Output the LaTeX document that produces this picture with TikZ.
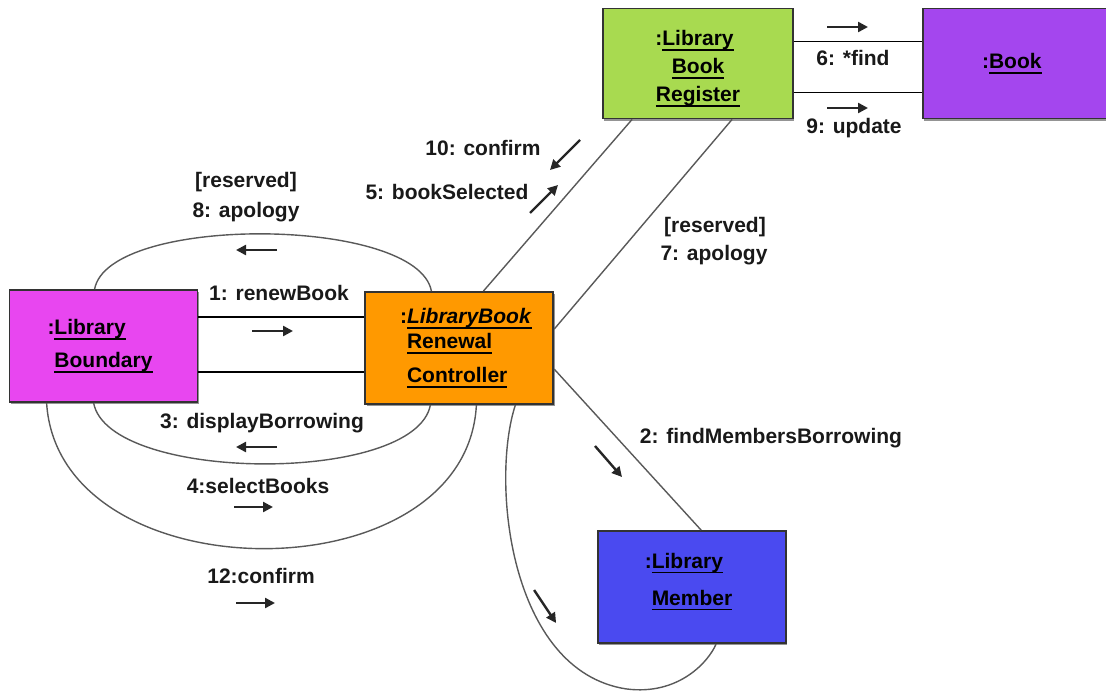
\documentclass[tikz,border=0pt]{standalone}
\usepackage{fontspec}
\setmainfont{Liberation Sans}
\usetikzlibrary{arrows.meta, positioning, calc, shadows}

\definecolor{bndfill}{HTML}{E846F0}
\definecolor{ctlfill}{HTML}{FF9900}
\definecolor{regfill}{HTML}{A8DA50}
\definecolor{bookfill}{HTML}{A446EE}
\definecolor{memfill}{HTML}{4A4AF0}

\newcommand{\objname}[1]{\setbox0\hbox{#1}\rlap{\rule[-2.6pt]{\wd0}{0.9pt}}\box0}

\begin{document}
\begin{tikzpicture}[
  x=0.5pt, y=-0.5pt,
  font=\fontsize{10.5}{14}\selectfont\bfseries,
  obj/.style={rectangle, draw=black!80, line width=0.9pt, minimum width=94pt, minimum height=56pt, inner sep=0pt,
    drop shadow={shadow xshift=0.6pt, shadow yshift=-1pt, fill=black!60, opacity=0.7}},
  link/.style={draw=black!65, line width=0.7pt},
  wire/.style={draw=black, line width=0.8pt},
  msg/.style={-{Triangle[length=5pt, width=5pt]}, line width=1.2pt, black!85},
  lbl/.style={inner sep=1pt, text=black!90}
]
  \useasboundingbox (0,0) rectangle (1106,690);

  % objects
  \node[obj, fill=bndfill, align=left] (lb) at (103.5,346) {\llap{:}\objname{Library}\\[2.5pt]\objname{Boundary}};
  \node[obj, fill=ctlfill, align=left, right=83pt of lb, yshift=-1pt] (ctl) {\hspace*{10pt}\llap{:}\objname{\textit{LibraryBook}}\\[-1.5pt]\hspace*{10pt}\objname{Renewal}\\[3pt]\hspace*{10pt}\objname{Controller}};
  \node[obj, fill=regfill, minimum width=95pt, minimum height=55pt, align=center] (reg) at (698,63.5) {\rule{0pt}{12.5pt}\llap{:}\objname{Library}\\\objname{Book}\\\objname{Register}};
  \node[obj, fill=bookfill, minimum width=92.5pt, minimum height=55pt, right=64pt of reg] (book) {\llap{:}\objname{Book}};
  \node[obj, fill=memfill, align=left] (mem) at (692,587) {\llap{:}\objname{Library}\\[4.5pt]\objname{Member}\\[-6pt]};

  % links
  \draw[wire] ($(lb.north east)+(0,28)$) coordinate (w1) -- (w1 -| ctl.west);
  \draw[wire] ($(lb.north east)+(0,83)$) coordinate (w2) -- (w2 -| ctl.west);
  \draw[wire] ($(reg.north east)+(0,34)$) coordinate (w3) -- (w3 -| book.west);
  \draw[wire] ($(reg.north east)+(0,85)$) coordinate (w4) -- (w4 -| book.west);

  \draw[link] ($(lb.north west)+(86,0)$) .. controls +(14,-75) and +(-14,-75) .. ($(ctl.north west)+(67,0)$);
  \draw[link] ($(lb.south west)+(85,0)$) .. controls +(15,80) and +(-15,80) .. ($(ctl.south west)+(66,0)$);
  \draw[link] ($(lb.south west)+(38,0)$) .. controls +(12,193) and +(-10,193) .. ($(ctl.south west)+(112,0)$);
  \draw[link] ($(ctl.south west)+(151,0)$) .. controls +(-25,76) and +(-117,-18) .. ($(mem.south west)+(29,45)$)
    .. controls +(53,7) and +(-7,17) .. ($(mem.south west)+(119,0)$);

  \draw[link] ($(reg.south west)+(30,0)$) -- ($(ctl.north west)+(119,0)$);
  \draw[link] ($(reg.south west)+(130,0)$) -- ($(ctl.north east)+(0,38)$);
  \draw[link] ($(ctl.north east)+(0,78)$) -- ($(mem.north west)+(104,0)$);

  % messages
  \node[lbl] (l8g) at (246,182) {[reserved]};
  \node[lbl] (l8) at (246,212) {8: apology};
  \node[lbl] (l1) at (279,293) {1: renewBook};
  \node[lbl] (l3) at (262,423) {3: displayBorrowing};
  \node[lbl] (l4) at (258,486) {4:selectBooks};
  \node[lbl] (l12) at (261,576) {12:confirm};
  \node[lbl] (l10) at (483,148) {10: confirm};
  \node[lbl] (l5) at (447,192) {5: bookSelected};
  \node[lbl] (l7g) at (715,227) {[reserved]};
  \node[lbl] (l7) at (714,255) {7: apology};
  \node[lbl] (l2) at (771,438) {2: findMembersBorrowing};
  \node[lbl] (l6) at (853,58) {6: *find};
  \node[lbl] (l9) at (854,128) {9: update};

  \draw[msg] ($(l8)+(31,38)$) -- ++(-41,0);
  \draw[msg] ($(l1)+(-27,38)$) -- ++(41,0);
  \draw[msg] ($(l3)+(15,24)$) -- ++(-41,0);
  \draw[msg] ($(l4)+(-24,21)$) -- ++(39,0);
  \draw[msg] ($(l12)+(-25,27)$) -- ++(39,0);
  \draw[msg] ($(l10)+(97,-8)$) -- ++(-30,30);
  \draw[msg] ($(l5)+(83,21)$) -- ++(28,-28);
  \draw[msg] ($(l2)+(-176,8)$) -- ++(27,31);
  \draw[msg] ($(mem.west)+(-63,3)$) -- ++(22,33);
  \draw[msg] ($(l6)+(-26,-31)$) -- ++(41,0);
  \draw[msg] ($(l9)+(-27,-20)$) -- ++(41,0);
\end{tikzpicture}
\end{document}
